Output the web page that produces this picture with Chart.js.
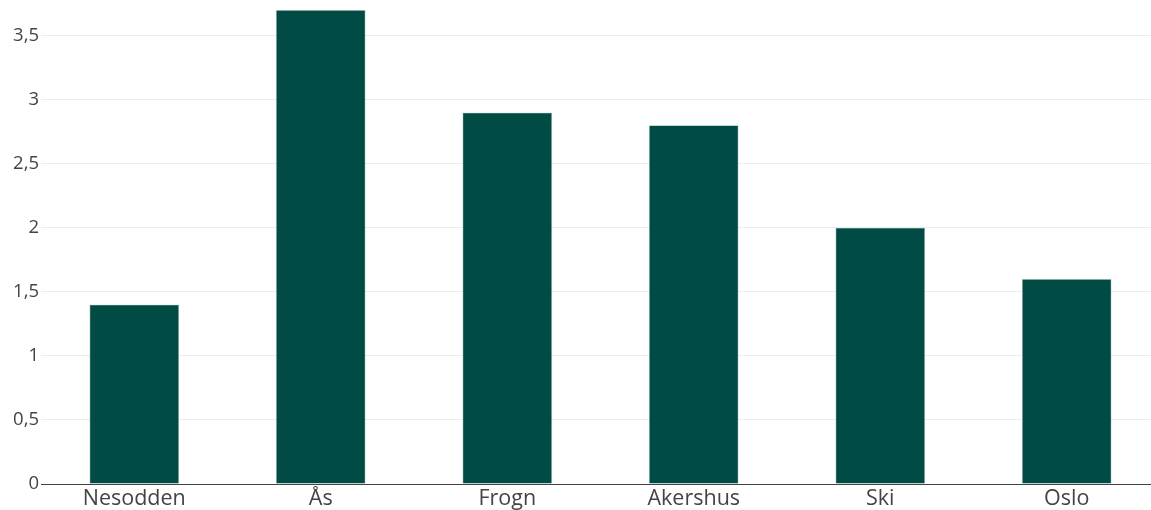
<!DOCTYPE html>
<html>
<head>
<meta charset="utf-8">
<script src="https://cdn.jsdelivr.net/npm/chart.js@4"></script>
<style>
  html, body { margin: 0; padding: 0; background: #fff; overflow: hidden; }
  #wrap { width: 1160px; height: 510px; position: relative; }
</style>
</head>
<body>
<div id="wrap"><canvas id="chartCanvas"></canvas></div>
<script>
const categories = ['Nesodden', 'Ås', 'Frogn', 'Akershus', 'Ski', 'Oslo'];
const values = [1.4, 3.7, 2.9, 2.8, 2.0, 1.6];
const yTicks = [0, 0.5, 1, 1.5, 2, 2.5, 3, 3.5];

const ctx = document.getElementById('chartCanvas').getContext('2d');

new Chart(ctx, {
  type: 'bar',
  data: {
    labels: categories,
    datasets: [{
      data: values,
      backgroundColor: '#004c45',
      borderColor: '#195a54',
      borderWidth: 0.5,
      categoryPercentage: 1,
      barPercentage: 0.478
    }]
  },
  options: {
    responsive: true,
    maintainAspectRatio: false,
    animation: false,
    layout: { padding: 0 },
    plugins: { legend: { display: false }, tooltip: { enabled: false } },
    scales: {
      x: {
        grid: { display: false, drawTicks: false },
        border: { display: true, color: '#444', width: 1 },
        ticks: {
          color: '#444',
          font: { family: 'Open Sans', size: 21.5 },
          padding: 2,
          maxRotation: 0
        },
        afterFit: s => { s.height = 26; s.paddingLeft = 0; s.paddingRight = 0; }
      },
      y: {
        min: 0,
        max: 3.78,
        grid: { color: '#ececec', drawTicks: false },
        border: { display: false },
        ticks: {
          color: '#444',
          font: { family: 'Open Sans', size: 18.5 },
          padding: 2,
          callback: v => String(v).replace('.', ',')
        },
        afterBuildTicks: s => { s.ticks = yTicks.map(v => ({ value: v })); },
        afterFit: s => { s.width = 41; s.paddingTop = 0; s.paddingBottom = 0; }
      }
    }
  }
});
</script>
</body>
</html>
